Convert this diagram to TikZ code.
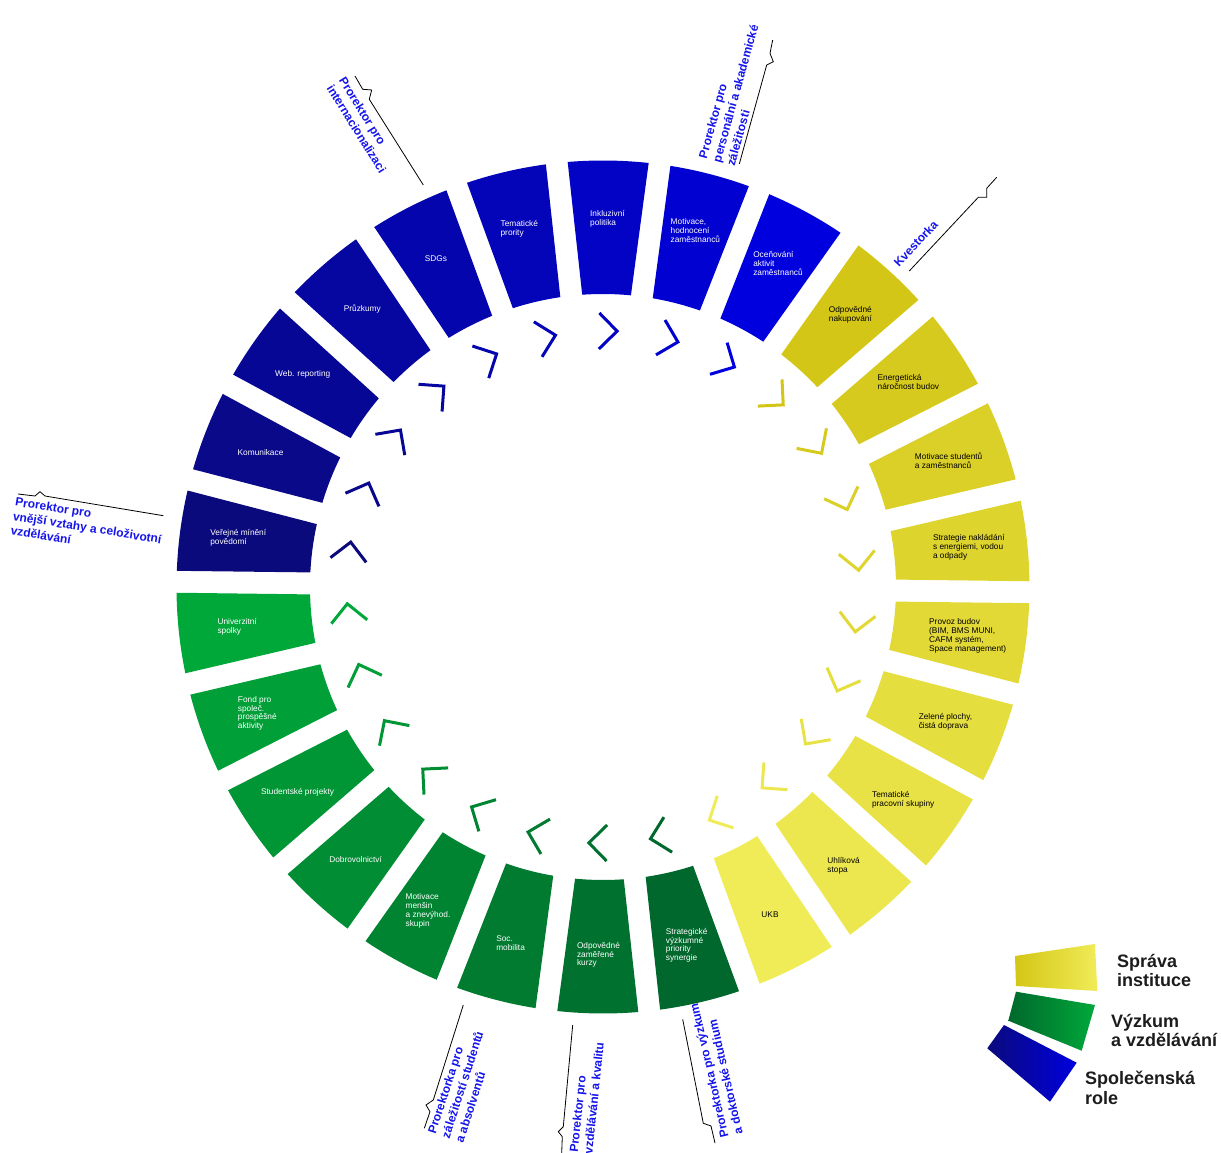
\documentclass[tikz,border=0pt]{standalone}
\usepackage{fontspec}
\setmainfont{Liberation Sans}
\usepackage{tikz}
\definecolor{navy}{RGB}{10,10,125}
\definecolor{brightblue}{RGB}{0,0,222}
\definecolor{darkgreen}{RGB}{0,104,44}
\definecolor{lightgreen}{RGB}{0,168,58}
\definecolor{darkyellow}{RGB}{212,198,22}
\definecolor{paleyellow}{RGB}{240,236,88}
\definecolor{rolecol}{RGB}{20,20,235}
\definecolor{legendtext}{RGB}{28,28,28}
\tikzset{
  seglabel/.style={align=left,inner sep=0pt,font=\fontsize{8.3}{8.8}\selectfont},
  chevron/.style={line width=3pt},
  role/.style={text=rolecol,align=left,inner sep=0pt,anchor=north west,font=\bfseries\fontsize{12}{14.5}\selectfont},
  leader/.style={black,line width=0.8pt},
  legend/.style={text=legendtext,align=left,inner sep=0pt,anchor=north west,font=\bfseries\fontsize{18}{19.5}\selectfont}
}
% one ring segment plus its chevron, #1 = angle
\newcommand{\ringpart}[2]{%
  \fill[#2] ({#1-4.77}:293pt) -- ({#1-5.45}:426.5pt)
    arc[start angle={#1-5.45},end angle={#1+5.45},radius=426.5pt]
    -- ({#1+4.77}:293pt)
    arc[start angle={#1+4.77},end angle={#1-4.77},radius=293pt] -- cycle;
  \draw[chevron,#2,rotate=#1] (274pt,7pt) -- (256pt,-11pt) -- (238pt,7pt);
}

\begin{document}
\begin{tikzpicture}
    \useasboundingbox (-603pt,-566pt) rectangle (618pt,587pt);
    % spolecenska role
    \foreach \i/\txt in {0/{Veřejné mínění\\povědomí},1/Komunikace,2/Web. reporting,3/Průzkumy,4/SDGs,5/{Tematické\\prority},6/{Inkluzivní\\politika},7/{Motivace,\\hodnocení\\zaměstnanců},8/{Oceňování\\aktivit\\zaměstnanců}}{
      \pgfmathsetmacro\a{89.3+13.846*(6-\i)}
      \pgfmathtruncatemacro\p{100*\i/8}
      \colorlet{segcol}{brightblue!\p!navy}
      \ringpart{\a}{segcol}
      \node[seglabel,text=white] (b\i) at (\a:368pt) {\txt};
    }
    % sprava instituce
    \foreach \i/\txt in {0/{Odpovědné\\nakupování},1/{Energetická\\náročnost budov},2/{Motivace studentů\\a zaměstnanců},3/{Strategie nakládání\\s energiemi, vodou\\a odpady},4/{Provoz budov\\(BIM, BMS MUNI,\\CAFM systém,\\Space management)},5/{Zelené plochy,\\čistá doprava},6/{Tematické\\pracovní skupiny},7/{Uhlíková\\stopa},8/UKB}{
      \pgfmathsetmacro\a{89.3+13.846*(23-\i)}
      \pgfmathtruncatemacro\p{100*\i/8}
      \colorlet{segcol}{paleyellow!\p!darkyellow}
      \ringpart{\a}{segcol}
      \node[seglabel,text=black] (y\i) at (\a:368pt) {\txt};
    }
    % vyzkum a vzdelavani
    \foreach \i/\txt in {0/{Univerzitní\\spolky},1/{Fond pro\\společ.\\prospěšné\\aktivity},2/Studentské projekty,3/Dobrovolnictví,4/{Motivace\\menšin\\a znevýhod.\\skupin},5/{Soc.\\mobilita},6/{Odpovědné\\zaměřené\\kurzy},7/{Strategické\\výzkumné\\priority\\synergie}}{
      \pgfmathsetmacro\a{89.3+13.846*(7+\i)}
      \pgfmathtruncatemacro\p{100*\i/7}
      \colorlet{segcol}{darkgreen!\p!lightgreen}
      \ringpart{\a}{segcol}
      \node[seglabel,text=white] (g\i) at (\a:368pt) {\txt};
    }

    % prorektori
    \node[role,rotate=-58] (intl) at (-257pt,511pt) {Prorektor pro\\internacionalizaci};
    \node[role,rotate=74.5] (pers) at (95pt,430pt) {Prorektor pro\\personální a akademické\\záležitosti};
    \node[role,rotate=47,anchor=base west] (kvest) at (296pt,319pt) {Kvestorka};
    \node[role,rotate=-9] (vnej) at (-587pt,90pt) {Prorektor pro\\vnější vztahy a celoživotní\\vzdělávání};
    \node[role,rotate=72] (stud) at (-176pt,-545pt) {Prorektorka pro\\záležitostí studentů\\a absolventů};
    \node[role,rotate=84] (kval) at (-34pt,-565pt) {Prorektor pro\\vzdělávání a kvalitu};
    \node[role,rotate=103] (vyzk) at (117pt,-552pt) {Prorektorka pro výzkum\\a doktorské studium};

    \coordinate (intlA) at (-179.7pt,402pt);
    \coordinate (intlB) at (-248pt,511pt);
    \coordinate (persA) at (136.3pt,423pt);
    \coordinate (persB) at (169.7pt,547pt);
    \coordinate (kvestA) at (306.3pt,316pt);
    \coordinate (kvestB) at (393.7pt,409.7pt);
    \coordinate (vnejA) at (-439.7pt,71.3pt);
    \coordinate (vnejB) at (-585pt,93pt);
    \coordinate (studA) at (-139.7pt,-418pt);
    \coordinate (studB) at (-178.7pt,-541.3pt);
    \coordinate (kvalA) at (-30.3pt,-438pt);
    \coordinate (kvalB) at (-41.3pt,-566pt);
    \coordinate (vyzkA) at (79.7pt,-432.3pt);
    \coordinate (vyzkB) at (112pt,-556pt);
    \draw[leader] (intlA) -- ++(-54pt,85.7pt) -- ++(2.4pt,9.3pt) -- ++(-9pt,0.7pt) -- (intlB);
    \draw[leader] (persA) -- ++(27.4pt,99pt) -- ++(6.6pt,3.3pt) -- ++(-3.3pt,8.4pt) -- (persB);
    \draw[leader] (kvestA) -- ++(69pt,73.7pt) -- ++(8.4pt,0pt) -- ++(0pt,9pt) -- (kvestB);
    \draw[leader] (vnejA) -- ++(-118.3pt,19.7pt) -- ++(-5pt,4.3pt) -- ++(-5pt,-4.3pt) -- (vnejB);
    \draw[leader] (studA) -- ++(-30pt,-95pt) -- ++(-7.3pt,-5pt) -- ++(4pt,-6.7pt) -- (studB);
    \draw[leader] (kvalA) -- ++(-9.4pt,-101.7pt) -- ++(-5pt,-5pt) -- ++(4pt,-5pt) -- (kvalB);
    \draw[leader] (vyzkA) -- ++(20.6pt,-104pt) -- ++(7.7pt,-2.7pt) -- (vyzkB);

    % legenda
    \shade[left color=darkyellow,right color=paleyellow] (412pt,-369pt) -- (492pt,-357pt) -- (494.3pt,-404pt) -- (413pt,-399pt) -- cycle;
    \shade[left color=darkgreen,right color=lightgreen] (413pt,-404.7pt) -- (492pt,-418pt) -- (478.7pt,-463.7pt) -- (405.3pt,-433.7pt) -- cycle;
    \shade[left color=navy,right color=brightblue] (401pt,-438pt) -- (473.7pt,-475.7pt) -- (447pt,-514.7pt) -- (384.3pt,-461.3pt) -- cycle;
    \node[legend] (sprava) at (514pt,-367pt) {Správa\\instituce};
    \node[legend] (vyzkum) at (508pt,-427pt) {Výzkum\\a vzdělávání};
    \node[legend] (spolecenska) at (482pt,-484pt) {Společenská\\role};
\end{tikzpicture}
\end{document}
